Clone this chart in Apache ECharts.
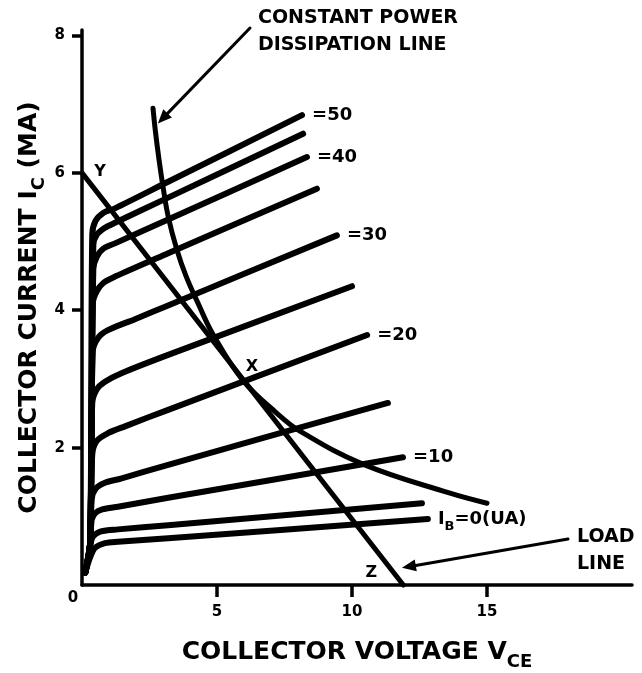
<!DOCTYPE html>
<html><head><meta charset="utf-8">
<script src="https://cdn.jsdelivr.net/npm/echarts@6/dist/echarts.min.js"></script>
<style>html,body{margin:0;padding:0;background:#fff}#c{width:642px;height:673px}</style>
</head><body><div id="c"></div>
<script>
// ---- data (V_CE in volts, I_C in mA) ----
const xTicks = [5, 10, 15];
const yTicks = [2, 4, 6, 8];
const ib0  = [[0.12,0.18],[0.3,0.4],[0.48,0.54],[0.85,0.61],[1.33,0.63],[3.19,0.68],[12.81,0.96]];
const ib5  = [[0.12,0.18],[0.3,0.55],[0.4,0.7],[0.7,0.78],[1.33,0.81],[3.19,0.87],[12.59,1.19]];
const ib10 = [[0.12,0.18],[0.3,0.6],[0.36,0.95],[0.5,1.05],[0.75,1.1],[1.33,1.14],[3.19,1.27],[11.89,1.86]];
const ib15 = [[0.12,0.18],[0.3,0.6],[0.36,1.25],[0.5,1.4],[0.85,1.49],[1.44,1.55],[3.19,1.75],[11.33,2.65]];
const ib20 = [[0.12,0.18],[0.3,0.6],[0.38,1.9],[0.55,2.1],[0.96,2.21],[1.59,2.31],[3.19,2.55],[10.56,3.64]];
const ib25 = [[0.12,0.18],[0.3,0.6],[0.38,2.65],[0.55,2.85],[0.85,2.96],[1.44,3.08],[3.19,3.35],[10.0,4.35]];
const ib30 = [[0.12,0.18],[0.3,0.6],[0.4,3.4],[0.6,3.6],[0.96,3.71],[1.96,3.87],[3.19,4.07],[9.44,5.09]];
const ib35 = [[0.12,0.18],[0.3,0.6],[0.4,4.1],[0.55,4.28],[0.8,4.4],[1.22,4.49],[3.19,4.83],[8.70,5.77]];
const ib40 = [[0.12,0.18],[0.3,0.6],[0.42,4.6],[0.55,4.78],[0.8,4.9],[1.2,4.97],[3.19,5.32],[8.33,6.23]];
const ib45 = [[0.12,0.18],[0.3,0.6],[0.42,4.95],[0.55,5.1],[0.85,5.2],[1.2,5.27],[3.19,5.64],[8.19,6.57]];
const ib50 = [[0.12,0.18],[0.3,0.6],[0.38,5.1],[0.5,5.3],[0.8,5.42],[1.2,5.48],[3.19,5.87],[8.15,6.84]];
const powerLine = [[2.63,6.94],[2.72,6.6],[2.85,6.2],[3.0,5.8],[3.2,5.35],[3.5,4.9],[3.85,4.5],[4.3,4.1],[4.85,3.65],[5.96,2.98],[7.22,2.50],[8.07,2.24],[10.4,1.76],[13.6,1.34],[15.0,1.19]];
const loadLine = [[0,6],[11.9,0]];
const pointX = [6, 3];

const FONT = '"DejaVu Sans", sans-serif';
const chart = echarts.init(document.getElementById('c'), null, {renderer: 'canvas'});
const lineStyle = {color: '#000', width: 6, cap: 'round', join: 'round'};
const lblBase = {color: '#000', fontFamily: FONT, fontWeight: 'bold', fontSize: 18};

function curve(data, label) {
  const s = {type: 'line', data: data, symbol: 'none', smooth: 0.3, lineStyle: lineStyle, silent: true, clip: false};
  if (label) {
    s.endLabel = Object.assign({show: true, formatter: label, distance: 10}, lblBase,
      {rich: {b: {fontFamily: FONT, fontWeight: 'bold', fontSize: 13, color: '#000', verticalAlign: 'bottom', lineHeight: 28}}});
  }
  return s;
}

const markLbl = {color: '#000', fontFamily: FONT, fontWeight: 'bold', fontSize: 16};
const titleStyle = {color: '#000', fontFamily: FONT, fontWeight: 'bold', fontSize: 25, lineHeight: 34,
  rich: {s: {color: '#000', fontFamily: FONT, fontWeight: 'bold', fontSize: 18, verticalAlign: 'bottom', lineHeight: 38}}};

chart.setOption({
  animation: false,
  backgroundColor: '#fff',
  grid: {left: 82, right: 10, top: 30, bottom: 88, containLabel: false, outerBoundsMode: 'none'},
  xAxis: {
    type: 'value', min: 0, max: 20.37, interval: 5,
    axisLine: {show: true, lineStyle: {color: '#000', width: 3.5}},
    axisTick: {show: true, customValues: xTicks, length: 12, lineStyle: {color: '#000', width: 3.5}},
    axisLabel: {customValues: xTicks, margin: 20, color: '#000', fontFamily: FONT, fontWeight: 'bold', fontSize: 15},
    splitLine: {show: false},
    name: 'COLLECTOR VOLTAGE V{s|CE}', nameLocation: 'middle', nameGap: 48, nameMoveOverlap: false,
    nameTextStyle: titleStyle
  },
  yAxis: {
    type: 'value', min: 0, max: 8.08, interval: 2,
    axisLine: {show: true, lineStyle: {color: '#000', width: 3.5}},
    axisTick: {show: true, customValues: yTicks, length: 10, lineStyle: {color: '#000', width: 3.5}},
    axisLabel: {customValues: yTicks, margin: 17, color: '#000', fontFamily: FONT, fontWeight: 'bold', fontSize: 15},
    splitLine: {show: false},
    name: 'COLLECTOR CURRENT I{s|C} (MA)', nameLocation: 'middle', nameGap: 34, nameRotate: 90, nameMoveOverlap: false,
    nameTextStyle: titleStyle
  },
  series: [
    curve(ib0, 'I{b|B}=0(UA)'),
    curve(ib5),
    curve(ib10, '=10'),
    curve(ib15),
    curve(ib20, '=20'),
    curve(ib25),
    curve(ib30, '=30'),
    curve(ib35),
    curve(ib40, '=40'),
    curve(ib45),
    curve(ib50, '=50'),
    {type: 'line', data: powerLine, symbol: 'none', smooth: 0.4, lineStyle: {color: '#000', width: 5, cap: 'round'}, clip: false,
      markPoint: {symbol: 'circle', symbolSize: 0, data: [{coord: pointX, label: Object.assign({show: true, formatter: 'X', offset: [8, -12]}, markLbl)}]}},
    {type: 'line', data: loadLine, symbol: 'none', lineStyle: {color: '#000', width: 5, cap: 'round'}, clip: false,
      markPoint: {symbol: 'circle', symbolSize: 0, data: [
        {coord: loadLine[0], label: Object.assign({show: true, formatter: 'Y', offset: [18, -1]}, markLbl)},
        {coord: loadLine[1], label: Object.assign({show: true, formatter: 'Z', offset: [-32, -12]}, markLbl)}
      ]}}
  ]
});

// ---- annotations ----
function px(x, y) { return chart.convertToPixel({gridIndex: 0}, [x, y]); }
function arrow(tail, tip) {
  const dx = tip[0] - tail[0], dy = tip[1] - tail[1];
  const L = Math.sqrt(dx * dx + dy * dy), ux = dx / L, uy = dy / L, nx = -uy, ny = ux;
  const hl = 14, hw = 6;
  const bx = tip[0] - ux * hl, by = tip[1] - uy * hl;
  return [
    {type: 'line', shape: {x1: tail[0], y1: tail[1], x2: bx, y2: by}, style: {stroke: '#000', lineWidth: 3, lineCap: 'round'}},
    {type: 'polygon', shape: {points: [[tip[0], tip[1]], [bx + nx * hw, by + ny * hw], [bx - nx * hw, by - ny * hw]]}, style: {fill: '#000'}}
  ];
}
const origin = px(0, 0);
const graphics = [].concat(
  arrow([250, 28], px(2.81, 6.72)),
  arrow([568, 539], px(11.85, 0.25)),
  [
    {type: 'text', style: {text: 'CONSTANT POWER\nDISSIPATION LINE', x: 258, y: 5, font: 'bold 19px ' + FONT, fill: '#000', lineHeight: 27}},
    {type: 'text', style: {text: 'LOAD\nLINE', x: 577, y: 524, font: 'bold 19px ' + FONT, fill: '#000', lineHeight: 27}},
    {type: 'text', style: {text: '0', x: origin[0] - 9, y: origin[1] + 13, font: 'bold 15px ' + FONT, fill: '#000', textAlign: 'center', textVerticalAlign: 'middle'}}
  ]
);
chart.setOption({graphic: {elements: graphics}});
</script>
</body></html>
